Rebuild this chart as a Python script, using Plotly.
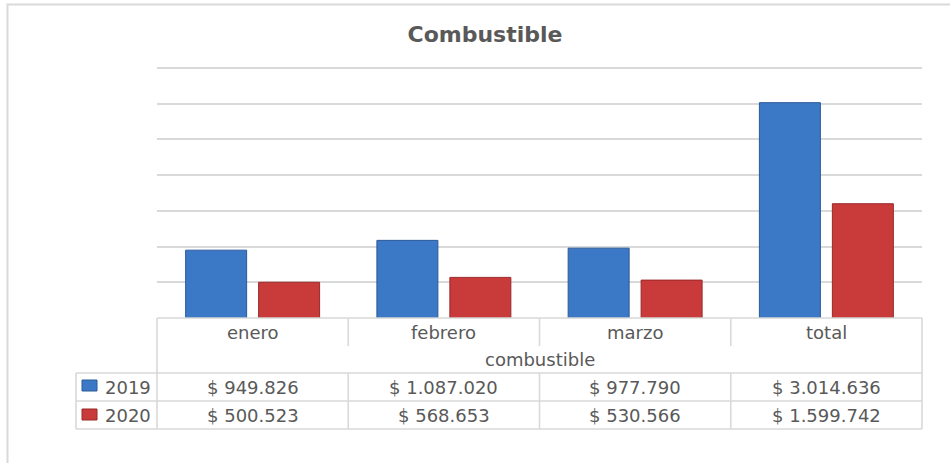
import plotly.graph_objects as go

categories = ["enero", "febrero", "marzo", "total"]
group_label = "combustible"
series_names = ["2019", "2020"]
values_2019 = [949826, 1087020, 977790, 3014636]
values_2020 = [500523, 568653, 530566, 1599742]
title_text = "Combustible"

colors = {"2019": "#3B78C6", "2020": "#C93A3A"}
lines = {"2019": "#2A5A98", "2020": "#9A2828"}
series_values = {"2019": values_2019, "2020": values_2020}

def fmt(v):
    return "$ " + f"{v:,}".replace(",", ".")

W, H = 950, 463
L, R, T, B = 157, 28, 63, 145
pw, ph = W - L - R, H - T - B

def px_x(px):
    return (px - L) / pw

def px_y(py):
    return (H - B - py) / ph

fig = go.Figure()
for name in series_names:
    fig.add_trace(go.Bar(
        x=categories, y=series_values[name], name=name,
        marker=dict(color=colors[name], line=dict(color=lines[name], width=1)),
        showlegend=False,
    ))

FONT = "DejaVu Sans"
TXT = "#595959"
GRID = "#d9d9d9"

shapes = []
def line(x0, y0, x1, y1, w=1.6):
    shapes.append(dict(type="line", xref="paper", yref="paper", x0=x0, y0=y0, x1=x1, y1=y1,
                       line=dict(color=GRID, width=w)))

y_r1 = px_y(346)
y_r2 = px_y(373)
y_r3 = px_y(401)
y_r4 = px_y(429)
x_left = px_x(76)
n = len(categories)
col_edges = [i / n for i in range(n + 1)]

line(0, 0, 1, 0)
for xe in col_edges:
    if xe in (0, 1):
        line(xe, 0, xe, y_r4)
    else:
        line(xe, 0, xe, y_r1)
        line(xe, y_r2, xe, y_r4)
for yy in (y_r2, y_r3, y_r4):
    line(x_left, yy, 1, yy)
line(x_left, y_r2, x_left, y_r4)

# outer frame
shapes.append(dict(type="rect", xref="paper", yref="paper",
                   x0=px_x(7.5), y0=px_y(4.5), x1=px_x(990), y1=px_y(520),
                   line=dict(color="#d9d9d9", width=2), layer="below"))

# legend keys
key_rows = [(px_y(380), px_y(391)), (px_y(409), px_y(420))]
for name, (ya, yb) in zip(series_names, key_rows):
    shapes.append(dict(type="rect", xref="paper", yref="paper",
                       x0=px_x(82), x1=px_x(97), y0=yb, y1=ya,
                       fillcolor=colors[name], line=dict(color=lines[name], width=1)))

annotations = []
fs = 18
row_centers = [px_y(332), px_y(359.5), px_y(387.5), px_y(415.5)]
def ann(x, y, text, xanchor="center"):
    annotations.append(dict(x=x, y=y, xref="paper", yref="paper", text=text,
                            xanchor=xanchor, yanchor="middle", showarrow=False,
                            font=dict(family=FONT, size=fs, color=TXT)))

for i, c in enumerate(categories):
    xc = (i + 0.5) / n
    ann(xc, row_centers[0], c)
    for r, name in enumerate(series_names):
        ann(xc, row_centers[2 + r], fmt(series_values[name][i]))
ann(0.5, row_centers[1], group_label)
for r, name in enumerate(series_names):
    ann(px_x(103), row_centers[2 + r], name, xanchor="left")

fig.update_layout(
    width=W, height=H,
    margin=dict(l=L, r=R, t=T, b=B),
    paper_bgcolor="white", plot_bgcolor="white",
    title=dict(text="<b>" + title_text + "</b>", x=485 / W, xanchor="center",
               y=1 - 34 / H, yanchor="middle",
               font=dict(family=FONT, size=22, color=TXT)),
    barmode="group", bargap=0.237, bargroupgap=0.164,
    xaxis=dict(showticklabels=False, showgrid=False, zeroline=False, showline=False,
               ticks="", range=[-0.5, n - 0.5]),
    yaxis=dict(range=[0, 3570000], tick0=0, dtick=500000, showticklabels=False, showgrid=True,
               gridcolor=GRID, gridwidth=1.5, zeroline=False, showline=False, ticks=""),
    shapes=shapes, annotations=annotations,
)

fig.write_html("out.html", config={"displayModeBar": False},
               post_script="document.body.style.margin='0';")
